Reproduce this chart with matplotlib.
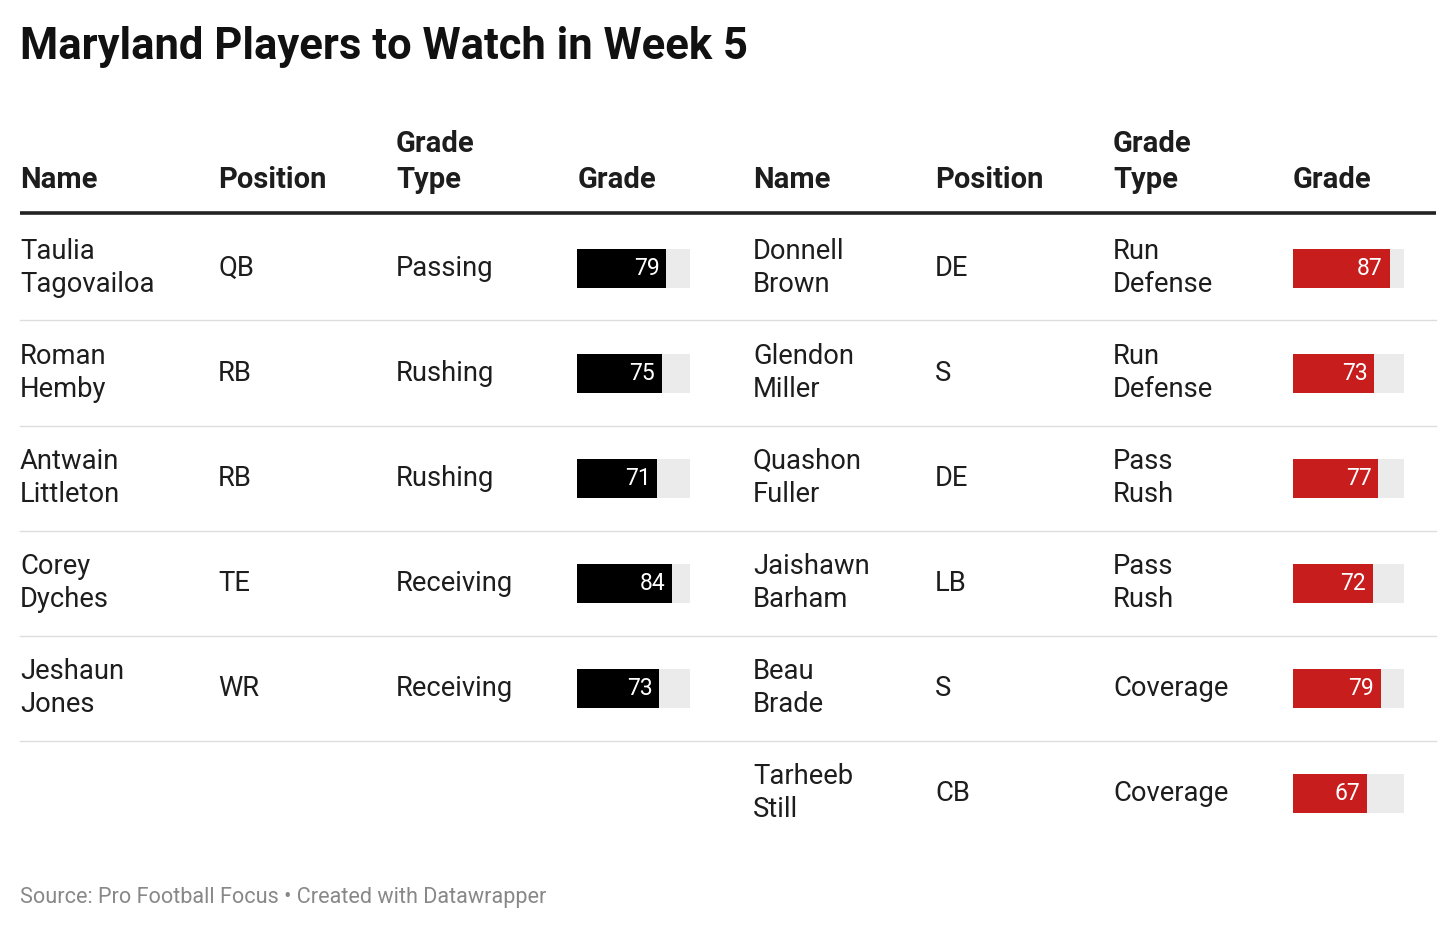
import matplotlib
matplotlib.use("Agg")
import matplotlib.pyplot as plt

plt.rcParams['font.family'] = ['Roboto', 'DejaVu Sans']

title = "Maryland Players to Watch in Week 5"
footer = "Source: Pro Football Focus • Created with Datawrapper"
headers = ["Name", "Position", "Grade\nType", "Grade"]

left_names = ["Taulia\nTagovailoa", "Roman\nHemby", "Antwain\nLittleton", "Corey\nDyches", "Jeshaun\nJones"]
left_pos = ["QB", "RB", "RB", "TE", "WR"]
left_types = ["Passing", "Rushing", "Rushing", "Receiving", "Receiving"]
left_grades = [79, 75, 71, 84, 73]

right_names = ["Donnell\nBrown", "Glendon\nMiller", "Quashon\nFuller", "Jaishawn\nBarham", "Beau\nBrade", "Tarheeb\nStill"]
right_pos = ["DE", "S", "DE", "LB", "S", "CB"]
right_types = ["Run\nDefense", "Run\nDefense", "Pass\nRush", "Pass\nRush", "Coverage", "Coverage"]
right_grades = [87, 73, 77, 72, 79, 67]

W, H = 1456, 930
fig = plt.figure(figsize=(W / 100, H / 100), dpi=100)
ax = fig.add_axes([0, 0, 1, 1])
ax.set_xlim(0, W)
ax.set_ylim(H, 0)
ax.axis('off')

TXT = '#1d1d1d'
ax.text(20, 47, title, fontsize=31.4, fontweight='bold', color='#111111', va='center', ha='left')

left_cols = [20, 218, 396, 578]
right_cols = [753, 935, 1113, 1293]
for cols in (left_cols, right_cols):
    for x, h in zip(cols, headers):
        ax.text(x, 188, h, fontsize=21, fontweight='bold', color=TXT, ha='left', va='baseline',
                linespacing=1.36)

ax.plot([20, 1436], [213.5, 213.5], color='#222222', lw=2.6, solid_capstyle='butt')

row0, step = 268, 105
nrows = max(len(left_names), len(right_names))
for i in range(nrows - 1):
    y = row0 + step * i + step / 2
    ax.plot([20, 1436], [y, y], color='#dddddd', lw=1)

def draw_text(cols, names, pos, types):
    for i, (n, p, t) in enumerate(zip(names, pos, types)):
        y = row0 + step * i
        for x, s in zip(cols[:3], (n, p, t)):
            ax.text(x, y, s, fontsize=19.7, color=TXT, ha='left', va='center', linespacing=1.28)

draw_text(left_cols, left_names, left_pos, left_types)
draw_text(right_cols, right_names, right_pos, right_types)

def bar_axes(x0, width, grades, color):
    bax = fig.add_axes([x0 / W, 0, width / W, 1])
    bax.set_xlim(0, 100)
    bax.set_ylim(H, 0)
    bax.axis('off')
    ys = [row0 + step * i for i in range(len(grades))]
    bax.barh(ys, [100] * len(grades), height=39, color='#ebebeb', edgecolor='none')
    bax.barh(ys, grades, height=39, color=color, edgecolor='none')
    for y, g in zip(ys, grades):
        bax.text(g - 6, y, str(g), fontsize=16.5, color='white', ha='right', va='center')
    return bax

bar_axes(577, 113, left_grades, '#000000')
bar_axes(1293, 111, right_grades, '#c71e1d')

ax.text(20, 897, footer, fontsize=15.6, color='#888888', ha='left', va='center')

fig.savefig('out.png', dpi=100)
